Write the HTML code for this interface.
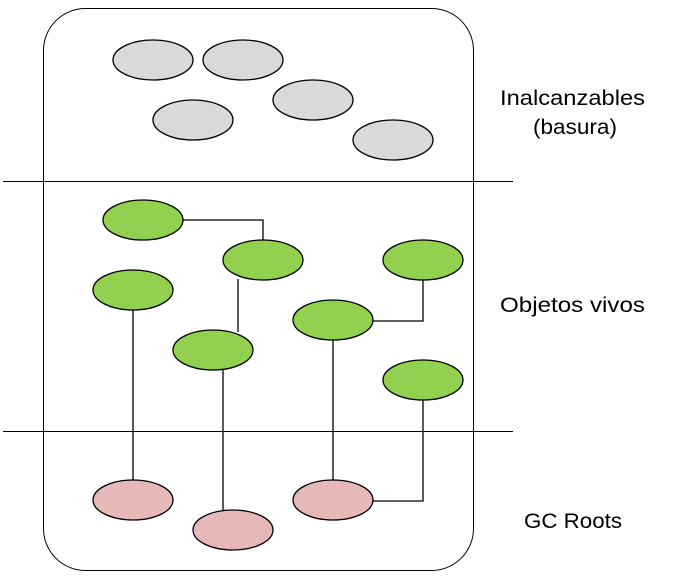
<!DOCTYPE html>
<html><head><meta charset="utf-8"><style>html,body{margin:0;padding:0;background:#fff}</style></head>
<body>
<svg width="674" height="576" xmlns="http://www.w3.org/2000/svg" style="display:block">
<rect x="43.5" y="8.5" width="430" height="562" rx="42" ry="42" fill="#fff" stroke="#000" stroke-width="1"/>
<line x1="3" y1="181.5" x2="513" y2="181.5" stroke="#000"/>
<line x1="3" y1="431.5" x2="513" y2="431.5" stroke="#000"/>
<g stroke="#000" stroke-width="1.3" fill="none">
<polyline points="183,220 263,220 263,240"/>
<line x1="238" y1="279" x2="238" y2="332"/>
<line x1="133" y1="310" x2="133" y2="480"/>
<line x1="223" y1="369" x2="223" y2="510"/>
<line x1="333" y1="340" x2="333" y2="480"/>
<polyline points="423,280 423,321 373,321"/>
<polyline points="423,400 423,501 373,501"/>
</g>
<g stroke="#000" stroke-width="1.3" fill="#d9d9d9">
<ellipse cx="153" cy="60" rx="40" ry="20"/>
<ellipse cx="243" cy="60" rx="40" ry="20"/>
<ellipse cx="313" cy="100" rx="40" ry="20"/>
<ellipse cx="193" cy="120" rx="40" ry="20"/>
<ellipse cx="393" cy="140" rx="40" ry="20"/>
</g>
<g stroke="#000" stroke-width="1.3" fill="#92d050">
<ellipse cx="143" cy="220" rx="40" ry="20"/>
<ellipse cx="263" cy="260" rx="40" ry="20"/>
<ellipse cx="133" cy="290" rx="40" ry="20"/>
<ellipse cx="423" cy="260" rx="40" ry="20"/>
<ellipse cx="333" cy="320" rx="40" ry="20"/>
<ellipse cx="213" cy="350" rx="40" ry="20"/>
<ellipse cx="423" cy="380" rx="40" ry="20"/>
</g>
<g stroke="#000" stroke-width="1.3" fill="#e6b9b8">
<ellipse cx="133" cy="500" rx="40" ry="20"/>
<ellipse cx="333" cy="500" rx="40" ry="20"/>
<ellipse cx="233" cy="530" rx="40" ry="20"/>
</g>
<g font-family="Liberation Sans, sans-serif" font-size="21" fill="#000">
<text x="500" y="105" textLength="145" lengthAdjust="spacingAndGlyphs">Inalcanzables</text>
<text x="533" y="134" textLength="84" lengthAdjust="spacingAndGlyphs">(basura)</text>
<text x="500" y="312" textLength="145" lengthAdjust="spacingAndGlyphs">Objetos vivos</text>
<text x="524" y="528" textLength="98" lengthAdjust="spacingAndGlyphs">GC Roots</text>
</g>
</svg>
</body></html>
